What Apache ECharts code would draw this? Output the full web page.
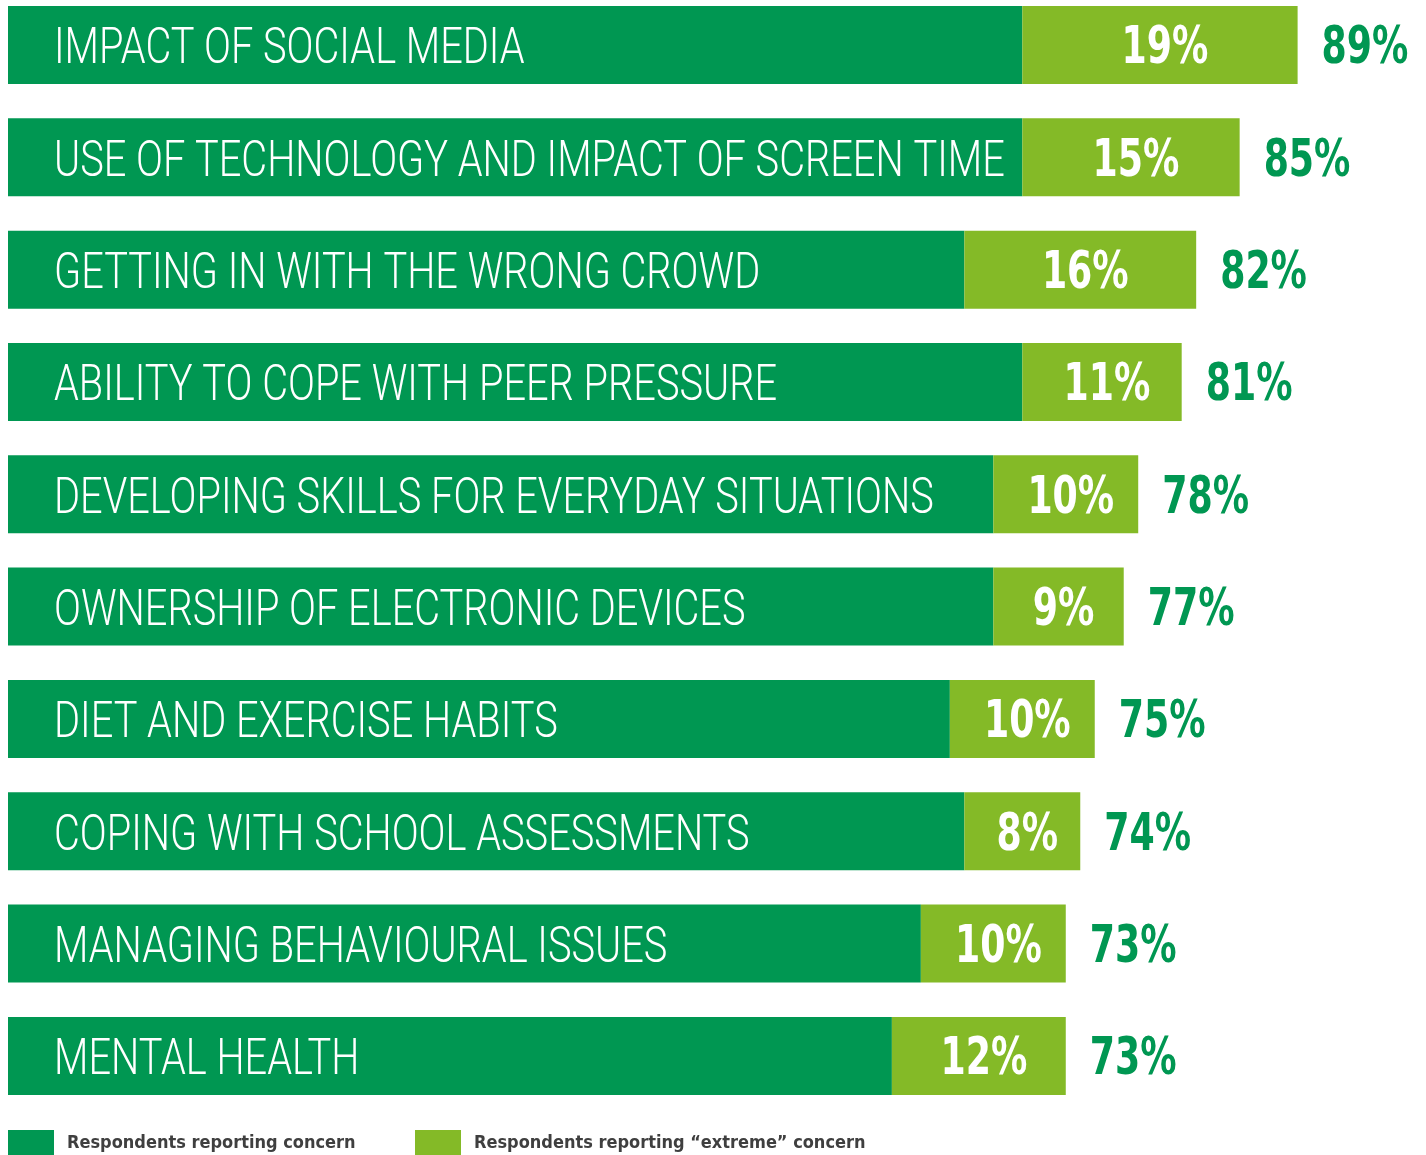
<!DOCTYPE html>
<html>
<head>
<meta charset="utf-8">
<script src="https://cdn.jsdelivr.net/npm/echarts@6/dist/echarts.min.js"></script>
<style>
  html, body { margin: 0; padding: 0; background: #ffffff; }
  #chart { width: 1426px; height: 1155px; }
</style>
</head>
<body>
<div id="chart"></div>
<script>
// Parental concerns, share of respondents
const categories = [
  'IMPACT OF SOCIAL MEDIA',
  'USE OF TECHNOLOGY AND IMPACT OF SCREEN TIME',
  'GETTING IN WITH THE WRONG CROWD',
  'ABILITY TO COPE WITH PEER PRESSURE',
  'DEVELOPING SKILLS FOR EVERYDAY SITUATIONS',
  'OWNERSHIP OF ELECTRONIC DEVICES',
  'DIET AND EXERCISE HABITS',
  'COPING WITH SCHOOL ASSESSMENTS',
  'MANAGING BEHAVIOURAL ISSUES',
  'MENTAL HEALTH'
];
// Respondents reporting concern (total, %)
const concern = [89, 85, 82, 81, 78, 77, 75, 74, 73, 73];
// Respondents reporting "extreme" concern (%)
const extreme = [19, 15, 16, 11, 10, 9, 10, 8, 10, 12];

const DARK = '#009752';
const LIGHT = '#84BA27';
const FONT = '"DejaVu Sans Condensed", "DejaVu Sans", sans-serif';
const FONT_LIGHT = 'Roboto, "DejaVu Sans Condensed", sans-serif';
const NAME_CONCERN = 'Respondents reporting concern';
const NAME_EXTREME = 'Respondents reporting \u201cextreme\u201d concern';

// the dark segment is the part of the concern bar not flagged as extreme
const baseConcern = concern.map((v, i) => v - extreme[i]);

const chart = echarts.init(document.getElementById('chart'), null, { renderer: 'canvas' });

// condensed text drawn as a horizontally squeezed text element
function squeezedText(x, y, text, opts) {
  return {
    type: 'text', x: x, y: y, scaleX: opts.scaleX,
    silent: true,
    style: {
      text: text,
      fontFamily: opts.family || FONT,
      fontSize: opts.size,
      fontWeight: opts.weight,
      fill: opts.color,
      align: opts.align,
      verticalAlign: 'middle'
    }
  };
}

const legendText = { fontFamily: FONT, fontWeight: 'bold', fontSize: 18, color: '#3f3f3f', padding: [0, 0, 0, 8] };

chart.setOption({
  animation: false,
  backgroundColor: '#ffffff',
  grid: { left: 8, top: -11.2, width: 1449, height: 1123.3, outerBoundsMode: 'none', containLabel: false },
  xAxis: { type: 'value', min: 0, max: 100, show: false },
  yAxis: { type: 'category', inverse: true, data: categories, show: false },
  legend: [
    {
      left: 8, top: 1130, padding: 0, itemWidth: 46, itemHeight: 26, icon: 'rect',
      data: [NAME_CONCERN], textStyle: legendText, selectedMode: false
    },
    {
      left: 415, top: 1130, padding: 0, itemWidth: 46, itemHeight: 26, icon: 'rect',
      data: [NAME_EXTREME], textStyle: legendText, selectedMode: false
    }
  ],
  series: [
    {
      name: NAME_CONCERN,
      type: 'bar', stack: 'c', barWidth: 78,
      data: baseConcern,
      itemStyle: { color: DARK }
    },
    {
      name: NAME_EXTREME,
      type: 'bar', stack: 'c', barWidth: 78,
      data: extreme,
      itemStyle: { color: LIGHT }
    },
    {
      // category names, extreme share and total share as text
      name: 'labels',
      type: 'custom',
      data: categories.map((c, i) => [concern[i], i]),
      z: 5,
      renderItem: function (params, api) {
        const i = params.dataIndex;
        const start = api.coord([0, i]);
        const split = api.coord([baseConcern[i], i]);
        const end = api.coord([concern[i], i]);
        const y = start[1] + 5;
        return {
          type: 'group',
          children: [
            squeezedText(start[0] + 46, y + 1, categories[i],
              { family: FONT_LIGHT, size: 50, weight: 300, color: '#ffffff', align: 'left', scaleX: 0.795 }),
            squeezedText((split[0] + end[0]) / 2 + 5, y, extreme[i] + '%',
              { size: 51, weight: 'bold', color: '#ffffff', align: 'center', scaleX: 0.79 }),
            squeezedText(end[0] + 24, y, concern[i] + '%',
              { size: 51, weight: 'bold', color: DARK, align: 'left', scaleX: 0.79 })
          ]
        };
      }
    }
  ]
});
</script>
</body>
</html>
